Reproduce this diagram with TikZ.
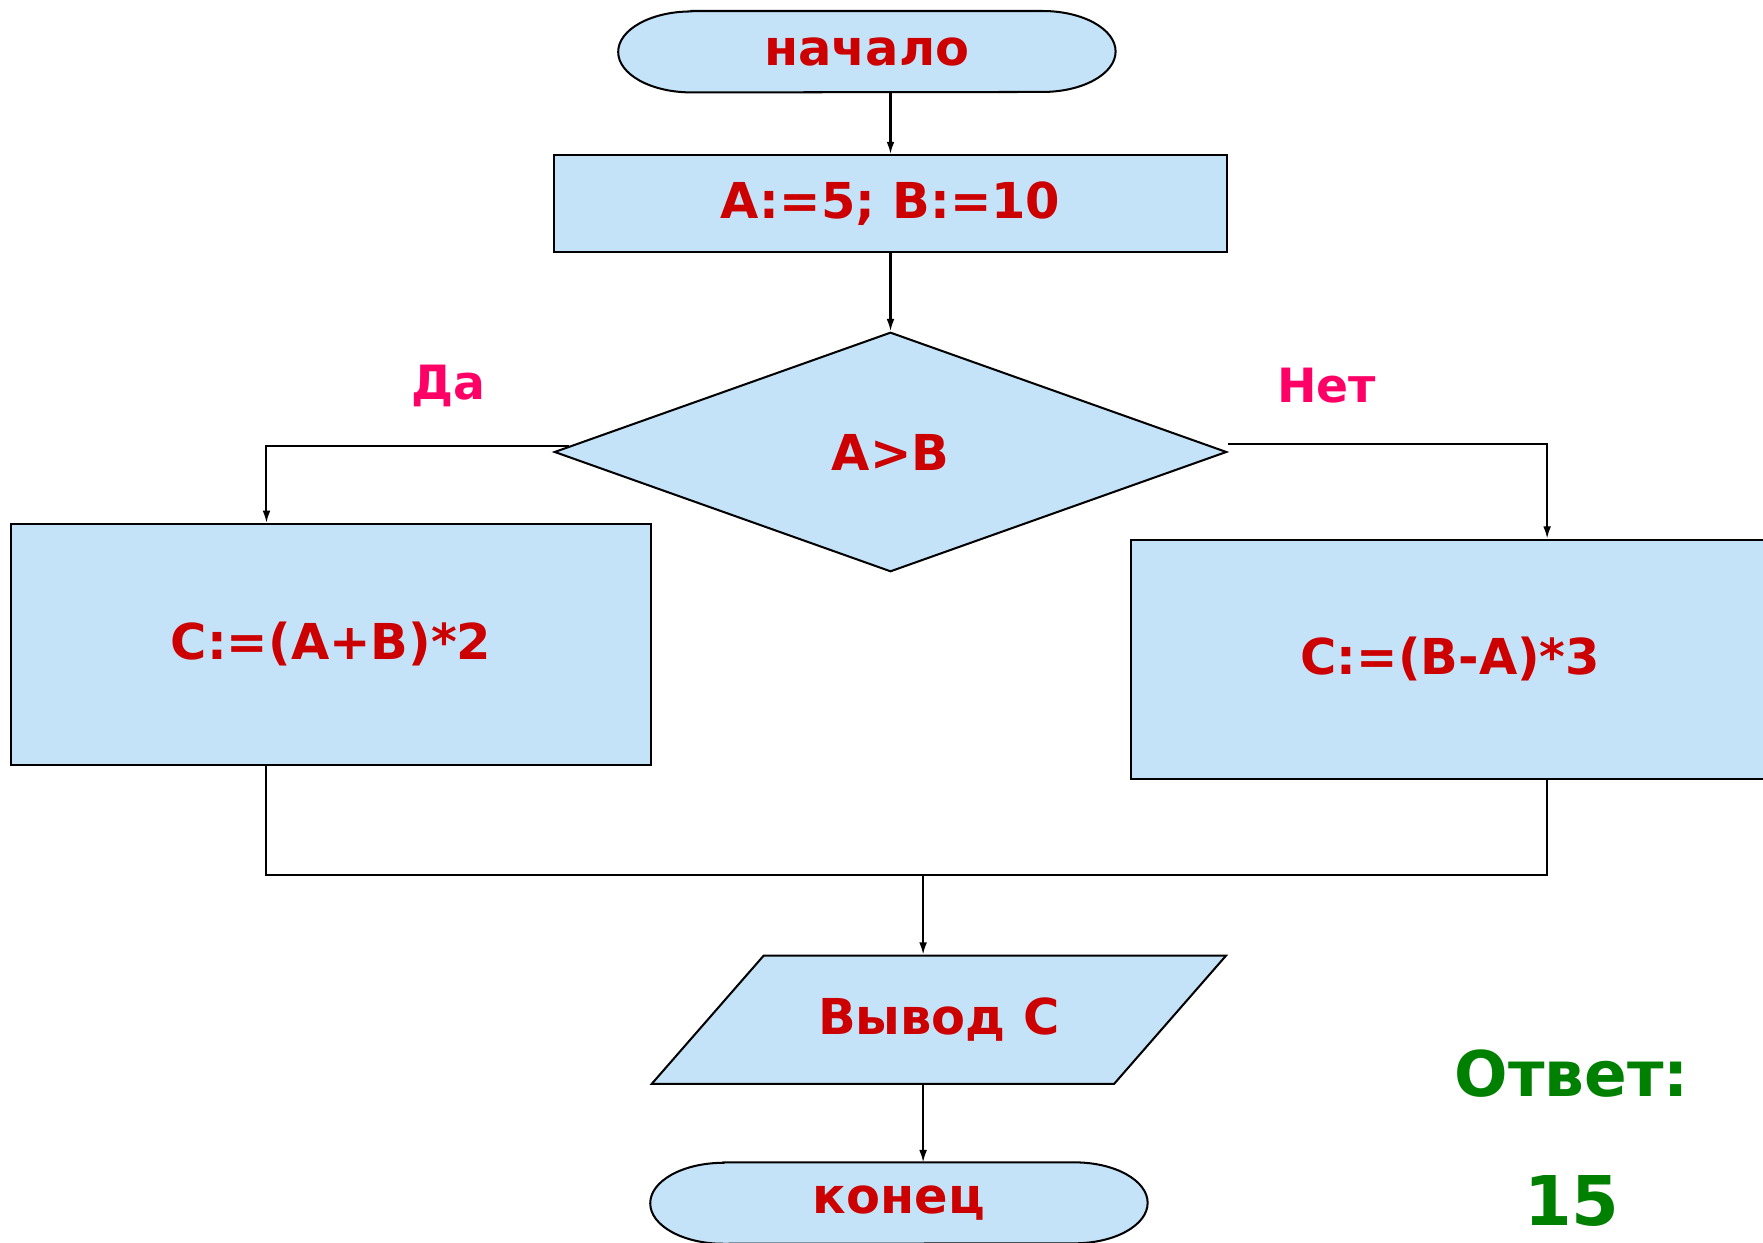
\documentclass[tikz,border=0pt]{standalone}
\usepackage{fontspec}
\setmainfont{DejaVu Sans}
\usetikzlibrary{shapes.geometric,arrows.meta,backgrounds}

\definecolor{boxblue}{RGB}{197,227,248}
\definecolor{textred}{RGB}{204,0,0}
\definecolor{labelpink}{RGB}{255,0,102}
\definecolor{answergreen}{RGB}{0,128,0}

\tikzset{
  flowline/.style={line width=1.8pt},
  flowarrow/.style={flowline,-{Latex[length=11pt,width=7pt]}},
  blocktext/.style={text=textred,font=\fontsize{44}{50}\selectfont\bfseries},
  blockbox/.style={blocktext,draw,flowline,fill=boxblue,rectangle,inner sep=0pt},
  condbox/.style={blockbox,diamond},
  iobox/.style={blockbox,trapezium,trapezium left angle=29.5,trapezium right angle=150.5,trapezium stretches=true},
  termbox/.style={blocktext,inner sep=0pt,minimum width=442pt,minimum height=72pt},
  branchlabel/.style={text=labelpink,font=\fontsize{42}{48}\selectfont\bfseries},
  answer/.style={text=answergreen,font=\fontsize{56}{60}\selectfont\bfseries}
}

\newcommand{\termshape}[1]{%
  \begin{pgfonlayer}{background}
  \filldraw[flowline,fill=boxblue] ([xshift=65pt]#1.north west) -- ([xshift=-65pt]#1.north east)
    arc[start angle=90,end angle=-90,x radius=65pt,y radius=36pt]
    -- ([xshift=65pt]#1.south west)
    arc[start angle=270,end angle=90,x radius=65pt,y radius=36pt] -- cycle;
  \end{pgfonlayer}}

\begin{document}
\begin{tikzpicture}[x=1pt,y=1pt]
\useasboundingbox (0,0) rectangle (1568,1105);
\node[termbox] (start) at (771,1059) {начало};
\termshape{start}
\node[blockbox,minimum width=598pt,minimum height=86pt] (init) at (792,924) {A:=5; B:=10};
\node[condbox,minimum width=598pt,minimum height=213pt] (cond) at (792,703) {A>B};
\node[blockbox,minimum width=569pt,minimum height=214pt] (yes) at (294.5,532) {C:=(A+B)*2};
\node[blockbox,minimum width=568pt,minimum height=213pt] (no) at (1290,518.5) {C:=(B-A)*3};
\node[iobox,minimum width=512pt,minimum height=114pt] (output) at (835,198) {Вывод C};
\node[termbox] (finish) at (799.5,35) {конец};
\termshape{finish}
\node[branchlabel] (yeslabel) at (399,762) {Да};
\node[branchlabel] (nolabel) at (1180,762) {Нет};
\node[answer] (anstitle) at (1398,150) {Ответ:};
\node[answer,font=\fontsize{61}{66}\selectfont\bfseries] (ansvalue) at (1398,37) {15};
\coordinate (merge) at (821,327);
\draw[flowarrow] (init.north |- start.south) -- (init.north);
\draw[flowarrow] (init.south) -- (cond.north);
\draw[flowarrow] (cond.179.3) -| ([xshift=-57.5pt]yes.north);
\draw[flowarrow] ([yshift=7pt]cond.east) -| ([xshift=86pt]no.north);
\draw[flowline] ([xshift=-57.5pt]yes.south) |- (merge) -| ([xshift=86pt]no.south);
\draw[flowarrow] (merge) -- (merge |- output.north);
\draw[flowarrow] (merge |- output.south) -- (merge |- finish.north);
\end{tikzpicture}
\end{document}
